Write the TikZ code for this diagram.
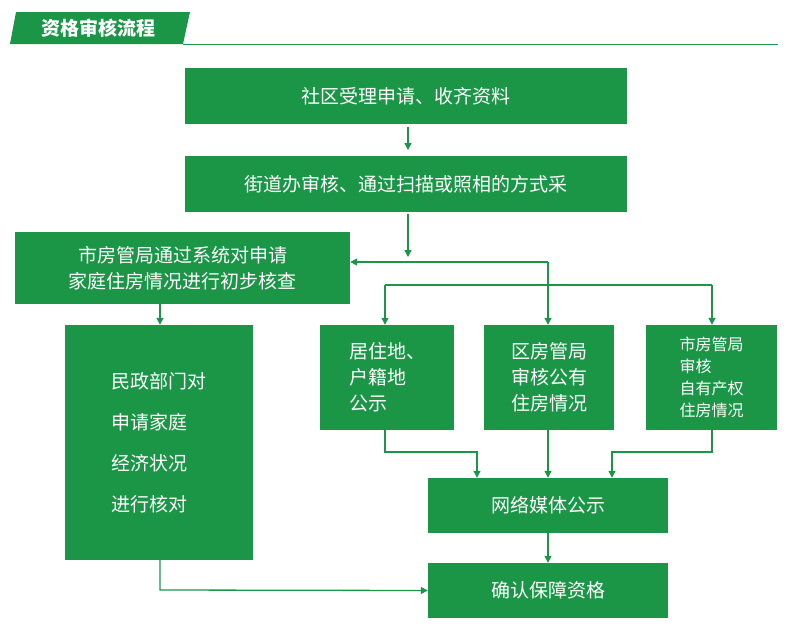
\documentclass[tikz,border=0pt]{standalone}
\usepackage{fontspec}
\setmainfont{Noto Sans CJK SC}
\usetikzlibrary{arrows.meta}
\definecolor{gr}{RGB}{26,150,70}
\begin{document}
\begin{tikzpicture}[x=1pt,y=-1pt,
  box/.style={fill=gr,text=white,inner sep=0pt,align=center,font=\fontsize{19}{26}\selectfont},
  arr/.style={draw=gr,line width=1.3pt,-{Triangle[length=7pt,width=7pt]}},
  ln/.style={draw=gr,line width=1.3pt}]
\useasboundingbox (0,0) rectangle (800,629);
\fill[gr] (16,12) -- (190,12) -- (183,44) -- (10,44) -- cycle;
\node[text=white,font=\fontsize{19}{22}\selectfont\bfseries] (hd) at (98,28) {资格审核流程};
\draw[gr,line width=1pt] (183,44) -- (778,44);
\node[box,minimum width=442,minimum height=56] (a) at (406,96) {社区受理申请、收齐资料};
\node[box,minimum width=442,minimum height=56] (b) at (406,184) {街道办审核、通过扫描或照相的方式采};
\node[box,minimum width=335,minimum height=72] (c) at (182.5,268) {市房管局通过系统对申请\\家庭住房情况进行初步核查};
\node[box,minimum width=188,minimum height=235,font=\fontsize{19}{41}\selectfont,align=left] (d) at (159,442.5) {民政部门对\\申请家庭\\经济状况\\进行核对};
\node[box,minimum width=134,minimum height=105,align=left] (e) at (387,377.5) {居住地、\\户籍地\\公示};
\node[box,minimum width=130,minimum height=105,align=left] (f) at (549,377.5) {区房管局\\审核公有\\住房情况};
\node[box,minimum width=131,minimum height=105,align=left,font=\fontsize{16}{22}\selectfont] (g) at (711.5,377.5) {市房管局\\审核\\自有产权\\住房情况};
\node[box,minimum width=240,minimum height=55] (h) at (548,505.5) {网络媒体公示};
\node[box,minimum width=240,minimum height=55] (i) at (548,590.5) {确认保障资格};
\coordinate (j1) at (548,262);
\coordinate (j2) at (385,285);
\coordinate (j3) at (712,285);
\coordinate (bd) at (408,257);
\draw[arr] (a.south -| 408,0) ++(0,3) -- (408,150);
\draw[arr] (408,214) -- (bd);
\draw[arr] (j1) -- (c.east |- j1);
\draw[arr] (j1) -- (f.north -| j1);
\draw[ln] (j2) -- (j3);
\draw[arr] (j2) -- (e.north -| j2);
\draw[arr] (j3) -- (g.north -| j3);
\draw[arr] (c.south -| 160,0) -- (d.north -| 160,0);
\draw[arr] (e.south -| 385,0) -- (385,452) -- (477,452) -- (h.north -| 477,0);
\draw[arr] (f.south -| 548,0) -- (h.north -| 548,0);
\draw[arr] (g.south -| 712,0) -- (712,452) -- (612,452) -- (h.north -| 612,0);
\draw[arr] (h.south) -- (i.north);
\draw[arr] (d.south -| 160,0) -- (160,590) -- (i.west);
\end{tikzpicture}
\end{document}
